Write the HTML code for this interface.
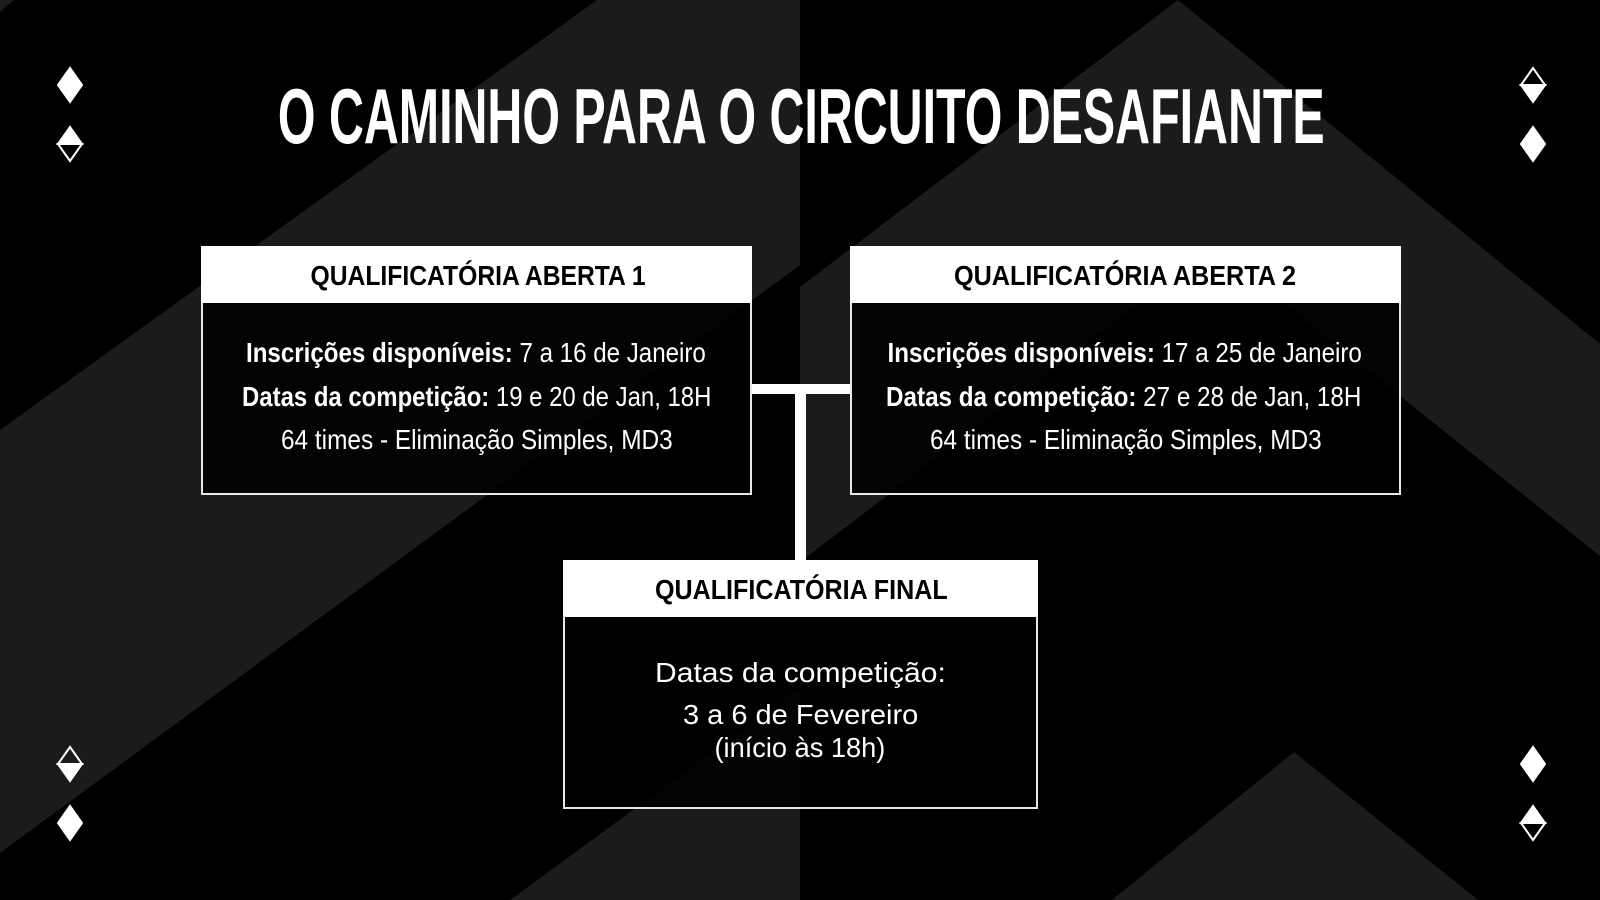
<!DOCTYPE html>
<html><head><meta charset="utf-8"><style>
html,body{margin:0;padding:0;background:#000;}
#s{position:relative;width:1600px;height:900px;overflow:hidden;background:#000;font-family:"Liberation Sans",sans-serif;}
svg.bg{position:absolute;left:0;top:0;}
.box{position:absolute;border:2px solid #e8e8e8;background:rgba(0,0,0,0.88);box-sizing:border-box;}
.hd{position:absolute;background:#fff;}
.t{position:absolute;width:2000px;text-align:center;white-space:nowrap;line-height:1;}
.t span{display:inline-block;transform-origin:50% 50%;}
.w{color:#fff;}
.k{color:#000;font-weight:bold;}
b{font-weight:bold;}
</style></head><body><div id="s">
<svg class="bg" width="1600" height="900" viewBox="0 0 1600 900">
<polygon fill="#1b1b1b" points="597,0 800,0 800,265 0,853 0,430"/>
<polygon fill="#1b1b1b" points="800,688 800,900 510,900"/>
<polygon fill="#1b1b1b" points="0,0 14,0 0,12"/>
<polygon fill="#1b1b1b" points="1178,0 1600,344 1600,556 1214,247 800,562 800,287"/>
<polygon fill="#1b1b1b" points="1294,752 1478,900 1112,900"/>
<rect x="752" y="384" width="98" height="10" fill="#fff"/>
<rect x="795" y="384" width="11" height="177" fill="#fff"/>
<g fill="#fff" stroke="#fff" stroke-width="2">
<polygon points="70,68 82,85 70,102 58,85"/>
<polygon points="70,127 82,144 58,144"/><polygon fill="none" points="82,144 70,161 58,144"/>
<polygon points="58,764 82,764 70,781"/><polygon fill="none" points="70,747 82,764 58,764"/>
<polygon points="70,806 82,823 70,840 58,823"/>
<polygon points="1521,85 1545,85 1533,102"/><polygon fill="none" points="1533,68 1545,85 1521,85"/>
<polygon points="1533,127 1545,144 1533,161 1521,144"/>
<polygon points="1533,747 1545,764 1533,781 1521,764"/>
<polygon points="1533,806 1545,823 1521,823"/><polygon fill="none" points="1545,823 1533,840 1521,823"/>
</g>
</svg>

<div class="box" style="left:201px;top:246px;width:551px;height:249px;"></div>
<div class="hd" style="left:201px;top:246px;width:551px;height:57px;"></div>
<div class="box" style="left:850px;top:246px;width:551px;height:249px;"></div>
<div class="hd" style="left:850px;top:246px;width:551px;height:57px;"></div>
<div class="box" style="left:563px;top:560px;width:475px;height:249px;"></div>
<div class="hd" style="left:563px;top:560px;width:475px;height:57px;"></div>

<div class="t w" id="t0" style="font-size:78px;font-weight:bold;"><span>O CAMINHO PARA O CIRCUITO DESAFIANTE</span></div>
<div class="t k" id="h1" style="font-size:28px;"><span>QUALIFICATÓRIA ABERTA 1</span></div>
<div class="t k" id="h2" style="font-size:28px;"><span>QUALIFICATÓRIA ABERTA 2</span></div>
<div class="t k" id="h3" style="font-size:28px;"><span>QUALIFICATÓRIA FINAL</span></div>
<div class="t w" id="a1" style="font-size:28px;"><span><b>Inscrições disponíveis:</b> 7 a 16 de Janeiro</span></div>
<div class="t w" id="a2" style="font-size:28px;"><span><b>Datas da competição:</b> 19 e 20 de Jan, 18H</span></div>
<div class="t w" id="a3" style="font-size:28px;"><span>64 times - Eliminação Simples, MD3</span></div>
<div class="t w" id="b1" style="font-size:28px;"><span><b>Inscrições disponíveis:</b> 17 a 25 de Janeiro</span></div>
<div class="t w" id="b2" style="font-size:28px;"><span><b>Datas da competição:</b> 27 e 28 de Jan, 18H</span></div>
<div class="t w" id="b3" style="font-size:28px;"><span>64 times - Eliminação Simples, MD3</span></div>
<div class="t w" id="c1" style="font-size:28px;"><span>Datas da competição:</span></div>
<div class="t w" id="c2" style="font-size:28px;"><span>3 a 6 de Fevereiro</span></div>
<div class="t w" id="c3" style="font-size:28px;"><span>(início às 18h)</span></div>
</div>
<script>
var L=[["t0",801,115,1047,78],["h1",478,276,335,28],["h2",1125,276,342,28],["h3",801,589.5,293,28],
["a1",476,353,460,28],["a2",476.5,397,469,28],["a3",476.5,440,392,28],
["b1",1125,353,474,28],["b2",1124,397,475,28],["b3",1125.5,440,392,28],
["c1",800.5,673,291,28],["c2",800.5,715,235,28],["c3",799.5,748,171,28]];
L.forEach(function(a){var d=document.getElementById(a[0]);d.style.left=(a[1]-1000)+"px";d.style.top=(a[2]-0.4825*a[4])+"px";
var s=d.firstChild;var w=s.offsetWidth;s.style.transform="scaleX("+(a[3]/w)+")";});
</script>
</body></html>
